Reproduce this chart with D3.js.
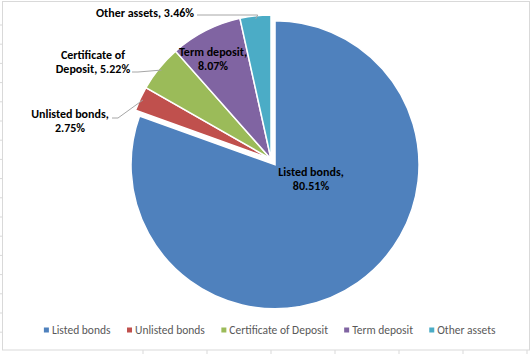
<!DOCTYPE html>
<html>
<head>
<meta charset="utf-8">
<script src="https://cdn.jsdelivr.net/npm/d3@7"></script>
<style>
  body { margin: 0; background: #fff; }
  svg { display: block; }
</style>
</head>
<body>
<div id="chart"></div>
<script>
// data
const categories = ["Listed bonds", "Unlisted bonds", "Certificate of Deposit", "Term deposit", "Other assets"];
const values = [80.51, 2.75, 5.22, 8.07, 3.46];
const labelLines = [
    ["Listed bonds,", "80.51%"],
    ["Unlisted bonds,", "2.75%"],
    ["Certificate of", "Deposit, 5.22%"],
    ["Term deposit,", "8.07%"],
    ["Other assets, 3.46%"]
];
const colors = ["#4F81BD", "#C0504D", "#9BBB59", "#8064A2", "#4BACC6"];

const width = 532, height = 354;
const cx = 271, cy = 159, radius = 144;
const explode = [7, 0, 0, 0, 0];

// label placement (layout only): anchor point and whether a leader line is drawn
const labelLayout = [
    { x: 311, y: 172, leader: false },
    { x: 70, y: 114, leader: true, lx: 112, ly: 118 },
    { x: 93, y: 55, leader: true, lx: 132, ly: 72 },
    { x: 213, y: 52, leader: false },
    { x: 145, y: 13, leader: true, lx: 197, ly: 15 }
];

const svg = d3.select("#chart").append("svg")
    .attr("width", width)
    .attr("height", height);

// spreadsheet cell lines peeking outside the chart frame
const rowTicks = d3.range(25, 340, 19.2);
svg.selectAll(".rowtick")
    .data(rowTicks)
    .enter().append("line")
    .attr("x1", 0).attr("x2", 2)
    .attr("y1", d => d).attr("y2", d => d)
    .attr("stroke", "#d9d9d9");
const colTicks = d3.range(143, 532, 64);
svg.selectAll(".coltick")
    .data(colTicks)
    .enter().append("line")
    .attr("x1", d => d).attr("x2", d => d)
    .attr("y1", 350).attr("y2", 354)
    .attr("stroke", "#d9d9d9");

// chart frame
svg.append("rect")
    .attr("x", 2.5).attr("y", 1.5)
    .attr("width", 527).attr("height", 348.5)
    .attr("fill", "#fff")
    .attr("stroke", "#d9d9d9");

const pie = d3.pie().sort(null).value(d => d);
const arcs = pie(values);
const arc = d3.arc().innerRadius(0).outerRadius(radius);

const g = svg.append("g")
    .attr("transform", "translate(" + cx + "," + cy + ")");

g.selectAll(".slice")
    .data(arcs)
    .enter().append("path")
    .attr("class", "slice")
    .attr("transform", (d, i) => {
        const mid = (d.startAngle + d.endAngle) / 2;
        return "translate(" + (Math.sin(mid) * explode[i]) + "," + (-Math.cos(mid) * explode[i]) + ")";
    })
    .attr("d", arc)
    .attr("fill", (d, i) => colors[i])
    .attr("stroke", "#fff")
    .attr("stroke-width", 1.5);

// leader lines
arcs.forEach((d, i) => {
    const L = labelLayout[i];
    if (!L.leader) return;
    const mid = (d.startAngle + d.endAngle) / 2;
    const px = cx + Math.sin(mid) * (radius - 3);
    const py = cy - Math.cos(mid) * (radius - 3);
    const pts = i === 4
        ? [[L.lx, L.ly], [px + 2, L.ly], [px, py]]
        : [[L.lx, L.ly], [L.lx + 6, L.ly], [px, py]];
    svg.append("path")
        .attr("d", d3.line()(pts))
        .attr("fill", "none")
        .attr("stroke", "#a6a6a6")
        .attr("stroke-width", 1);
});

// data labels
const fontFamily = "Carlito, 'Liberation Sans Narrow', 'Liberation Sans', Arial, sans-serif";
labelLines.forEach((lines, i) => {
    const L = labelLayout[i];
    const t = svg.append("text")
        .attr("x", L.x)
        .attr("y", L.y)
        .attr("text-anchor", "middle")
        .attr("font-family", fontFamily)
        .attr("font-size", "12px")
        .attr("font-weight", "bold")
        .attr("fill", "#000");
    lines.forEach((s, j) => {
        t.append("tspan")
            .attr("x", L.x)
            .attr("dy", j === 0 ? "0.35em" : "13.5px")
            .text(s);
    });
});

// legend
const legend = svg.append("g").attr("class", "legend");
const items = legend.selectAll("g")
    .data(categories)
    .enter().append("g");
items.append("rect")
    .attr("width", 5).attr("height", 5)
    .attr("y", -2.5)
    .attr("fill", (d, i) => colors[i]);
items.append("text")
    .attr("x", 8)
    .attr("dy", "0.35em")
    .attr("font-family", fontFamily)
    .attr("font-size", "11.5px")
    .attr("fill", "#595959")
    .text(d => d);

let offset = 0;
const widths = [];
items.each(function() {
    widths.push(this.getBBox().width);
});
const gap = 16;
const total = d3.sum(widths) + gap * (widths.length - 1);
offset = 270 - total / 2;
items.attr("transform", (d, i) => {
    const x = offset;
    offset += widths[i] + gap;
    return "translate(" + x + ",330)";
});
</script>
</body>
</html>
